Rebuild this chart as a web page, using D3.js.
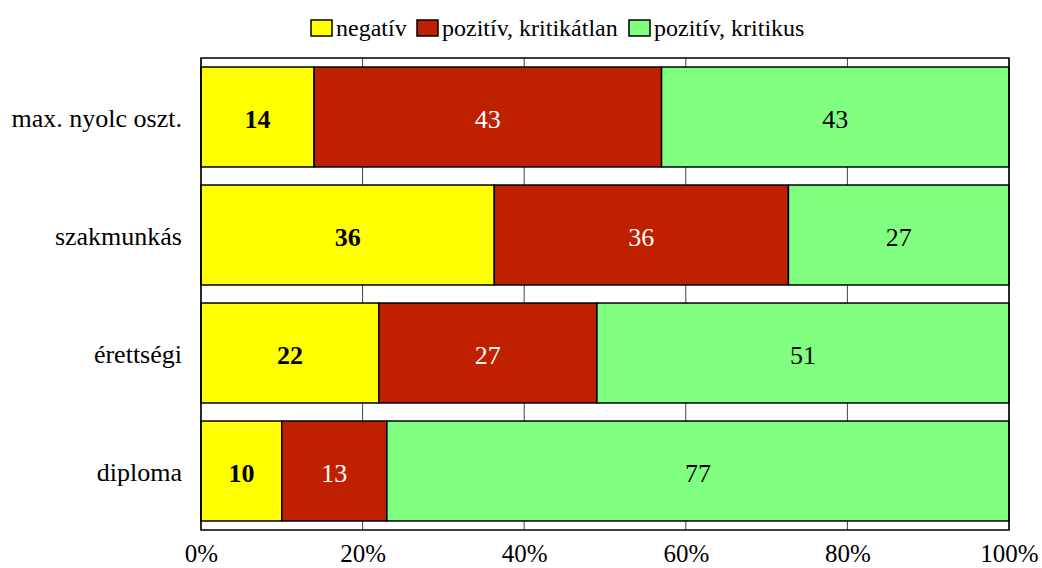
<!DOCTYPE html>
<html><head><meta charset="utf-8">
<script src="https://cdn.jsdelivr.net/npm/d3@7"></script>
<style>body{margin:0;background:#fff}svg{display:block}</style>
</head><body>
<svg id="c" width="1042" height="568" font-family="Liberation Serif"></svg>
<script>
const categories = ["max. nyolc oszt.", "szakmunkás", "érettségi", "diploma"];
const seriesNames = ["negatív", "pozitív, kritikátlan", "pozitív, kritikus"];
const negativ = [14, 36.3, 22, 10];
const pozKritikatlan = [43, 36.4, 27, 13];
const pozKritikus = [43, 27.3, 51, 77];
const tickValues = [0, 20, 40, 60, 80, 100];
const colors = ["#FFFF00", "#BF2000", "#80FF80"];
const labelStyles = [{fill:"#000",weight:"bold"},{fill:"#fff",weight:"normal"},{fill:"#000",weight:"normal"}];
const FONT = "Liberation Serif";

const svg = d3.select("#c");
const L = 201, R = 1009, T = 58, B = 530;
const x = d3.scaleLinear().domain([0,100]).range([L,R]);
const y = d3.scaleBand().domain(categories).range([T,B]).paddingInner(0.153).paddingOuter(0.0765);

const stackData = categories.map((c,i)=>{
  const vals=[negativ[i], pozKritikatlan[i], pozKritikus[i]];
  const o={cat:c}; seriesNames.forEach((s,j)=>o[s]=vals[j]); return o;});
const stack = d3.stack().keys(seriesNames)(stackData);

// gridlines
svg.append("g").selectAll("line").data(tickValues).join("line")
  .attr("x1",d=>x(d)).attr("x2",d=>x(d)).attr("y1",T).attr("y2",B)
  .attr("stroke","#444").attr("stroke-width",1);

// bars
stack.forEach((layer,j)=>{
  const g = svg.append("g");
  g.selectAll("rect").data(layer).join("rect")
    .attr("x",d=>x(d[0])).attr("width",d=>x(d[1])-x(d[0]))
    .attr("y",d=>y(d.data.cat)).attr("height",y.bandwidth())
    .attr("fill",colors[j]).attr("stroke","#000").attr("stroke-width",1.5);
  g.selectAll("text").data(layer).join("text")
    .attr("x",d=>(x(d[0])+x(d[1]))/2).attr("y",d=>y(d.data.cat)+y.bandwidth()/2)
    .attr("text-anchor","middle").attr("dy","0.42em")
    .attr("font-family",FONT).attr("font-size",26)
    .attr("fill",labelStyles[j].fill).attr("font-weight",labelStyles[j].weight)
    .text(d=>Math.round(d[1]-d[0]));
});

// frame
svg.append("rect").attr("x",L).attr("y",T).attr("width",R-L).attr("height",B-T)
  .attr("fill","none").attr("stroke","#000").attr("stroke-width",1.5);

// x axis
const xa = svg.append("g").attr("transform",`translate(0,${B})`)
  .call(d3.axisBottom(x).tickValues(tickValues).tickFormat(d=>d+"%").tickSize(0).tickPadding(14))
  .attr("font-family",FONT).attr("font-size",25);
xa.select(".domain").remove();
xa.selectAll("text").attr("fill","#000");

// y axis
const ya = svg.append("g").attr("transform",`translate(${L},0)`)
  .call(d3.axisLeft(y).tickSize(0).tickPadding(19))
  .attr("font-family",FONT).attr("font-size",26);
ya.select(".domain").remove();
ya.selectAll("text").attr("fill","#000").attr("dy","0.38em");

// legend
const legX = [311, 417, 629];
const lg = svg.append("g").attr("font-family",FONT).attr("font-size",24);
seriesNames.forEach((s,j)=>{
  lg.append("rect").attr("x",legX[j]).attr("y",20).attr("width",21).attr("height",16)
    .attr("fill",colors[j]).attr("stroke","#000").attr("stroke-width",1.5);
  lg.append("text").attr("x",legX[j]+25).attr("y",36).attr("fill","#000").text(s);
});
</script>
</body></html>
